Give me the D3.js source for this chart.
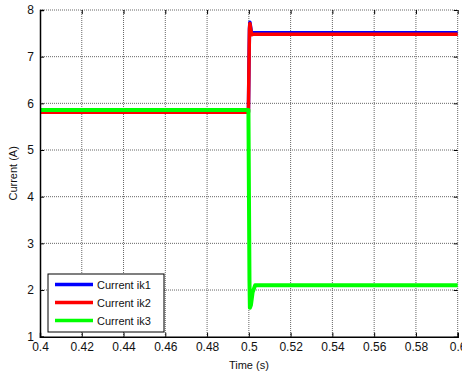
<!DOCTYPE html>
<html><head><meta charset="utf-8">
<script src="https://cdn.jsdelivr.net/npm/d3@7"></script>
<style>body{margin:0;background:#fff}svg{display:block}text{font-family:Arial,"Liberation Sans",sans-serif}</style>
</head><body>
<script>
const xTicks = [0.4,0.42,0.44,0.46,0.48,0.5,0.52,0.54,0.56,0.58,0.6];
const yTicks = [1,2,3,4,5,6,7,8];
const seriesNames = ["Current ik1","Current ik2","Current ik3"];
const seriesColors = ["#0000ff","#ff0000","#00ff00"];
const t1 = [0.4, 0.4998, 0.50005, 0.5003, 0.5005, 0.5008, 0.5013, 0.502, 0.6];
const ik1 = [5.81, 5.81, 6.8, 7.6, 7.74, 7.65, 7.5, 7.51, 7.51];
const t2 = [0.4, 0.4998, 0.50005, 0.5003, 0.5005, 0.5008, 0.5013, 0.502, 0.6];
const ik2 = [5.81, 5.81, 6.8, 7.58, 7.71, 7.62, 7.47, 7.48, 7.48];
const t3 = [0.4, 0.4998, 0.50005, 0.5003, 0.5005, 0.5010, 0.5018, 0.5030, 0.6];
const ik3 = [5.86, 5.86, 4.0, 2.2, 1.62, 1.68, 1.95, 2.1, 2.1];

const W=462,H=374, L=40, R=457.7, T=10, B=336.7;
const svg=d3.select("body").append("svg").attr("width",W).attr("height",H);
const x=d3.scaleLinear().domain([0.4,0.6]).range([L,R]);
const y=d3.scaleLinear().domain([1,8]).range([B,T]);

// grid
const g=svg.append("g");
g.selectAll(".gx").data(xTicks.slice(1)).enter().append("line")
 .attr("x1",d=>x(d)).attr("x2",d=>x(d)).attr("y1",T).attr("y2",B)
 .attr("stroke","#666").attr("stroke-width",1).attr("stroke-dasharray","1,1");
g.selectAll(".gy").data(yTicks.slice(1)).enter().append("line")
 .attr("x1",L).attr("x2",R).attr("y1",d=>y(d)).attr("y2",d=>y(d))
 .attr("stroke","#666").attr("stroke-width",1).attr("stroke-dasharray","1,1");

// lines
const line=d3.line().x(d=>x(d[0])).y(d=>y(d[1]));
const data=[[t1,ik1],[t2,ik2],[t3,ik3]];
const widths=[3.5,3.5,4];
data.forEach((s,i)=>{
  svg.append("path").datum(s[0].map((t,j)=>[t,s[1][j]]))
   .attr("d",line).attr("fill","none").attr("stroke",seriesColors[i])
   .attr("stroke-width",widths[i]).attr("stroke-linejoin","round");
});

// axes
const ax=svg.append("g").attr("transform",`translate(0,${B})`)
 .call(d3.axisBottom(x).tickValues(xTicks).tickFormat(d3.format("~g")).tickSize(-4).tickPadding(6));
const ay=svg.append("g").attr("transform",`translate(${L},0)`)
 .call(d3.axisLeft(y).tickValues(yTicks).tickFormat(d3.format("d")).tickSize(-4).tickPadding(6));
const axT=svg.append("g").attr("transform",`translate(0,${T})`)
 .call(d3.axisTop(x).tickValues(xTicks).tickFormat("").tickSize(-4));
const ayR=svg.append("g").attr("transform",`translate(${R},0)`)
 .call(d3.axisRight(y).tickValues(yTicks).tickFormat("").tickSize(-4));
[axT,ayR].forEach(a=>{a.select(".domain").remove();a.selectAll("line").attr("stroke","#000");});
[ax,ay].forEach(a=>{a.select(".domain").attr("stroke","#000").attr("stroke-width",1.5);
  a.selectAll("text").attr("font-size","12px").attr("fill","#111").attr("font-family","Arial, Liberation Sans, sans-serif");});

svg.append("text").attr("x",(L+R)/2).attr("y",369).attr("text-anchor","middle")
 .attr("font-size","11px").attr("fill","#111").text("Time (s)");
svg.append("text").attr("transform",`translate(17,${(T+B)/2}) rotate(-90)`).attr("text-anchor","middle")
 .attr("font-size","11px").attr("fill","#111").text("Current (A)");

// legend
const lg=svg.append("g");
lg.append("rect").attr("x",48).attr("y",274).attr("width",116).attr("height",58)
 .attr("fill","#fff").attr("stroke","#000").attr("stroke-width",1);
seriesNames.forEach((n,i)=>{
  const yy=284.5+i*18;
  lg.append("line").attr("x1",55).attr("x2",93).attr("y1",yy).attr("y2",yy)
   .attr("stroke",seriesColors[i]).attr("stroke-width",3.5);
  lg.append("text").attr("x",97).attr("y",yy+4).attr("font-size","11px").attr("fill","#111").text(n);
});
</script>
</body></html>
